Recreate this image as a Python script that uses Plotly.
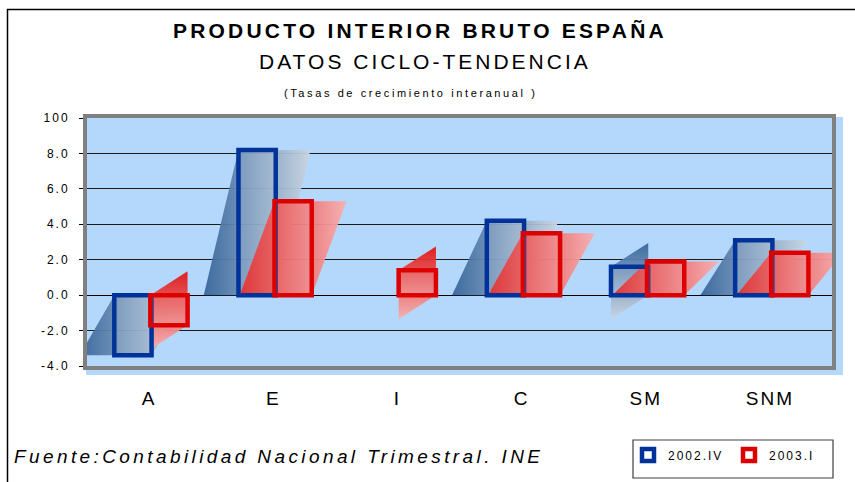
import plotly.graph_objects as go

# ---------------- data ----------------
categories = ["A", "E", "I", "C", "SM", "SNM"]
series_names = ["2002.IV", "2003.I"]
values_2002_IV = [-3.4, 8.2, None, 4.2, 1.6, 3.1]
values_2003_I = [-1.7, 5.3, 1.4, 3.5, 1.9, 2.4]
y_tickvals = [-4, -2, 0, 2, 4, 6, 8, 10]
y_ticktext = ["-4.0", "-2.0", "0.0", "2.0", "4.0", "6.0", "8.0", "100"]

# ---------------- styling ----------------
W, H = 855, 482
PL, PR, PT, PB = 87, 832, 118, 366          # plot area in pixels
BG = "#B4D8FC"
FONT = "Liberation Sans, Arial, sans-serif"

line_colors = ["#003399", "#DD0000"]
grad_colors = [["#36649A", "#CAD5E1"], ["#E01414", "#F8AFAF"]]
bar_offsets = [-0.28, 0.01]
bar_width = 0.30
shear_x = 0.28    # horizontal skew of the gradient "shadow" (category units)
shear_y = 1.35    # vertical skew for short bars (value units)


def X(px):
    return (px - PL) / (PR - PL)


def Y(py):
    return (PB - py) / (PB - PT)


def spaced(text, ls):
    return f'<span style="letter-spacing:{ls}px">{text}</span>'


fig = go.Figure()

# gradient "shadow" parallelograms, computed from the data
for s, vals in enumerate([values_2002_IV, values_2003_I]):
    for j, v in enumerate(vals):
        if v is None:
            continue
        L = j + bar_offsets[s]
        R = L + bar_width
        lo, hi = min(0, v), max(0, v)
        if abs(v) >= 1.8:
            xs = [L - shear_x, R, R + shear_x, L, L - shear_x]
            ys = [lo, lo, hi, hi, lo]
            grad = dict(type="horizontal",
                        colorscale=[[0, grad_colors[s][0]], [1, grad_colors[s][1]]])
        else:
            xs = [L, R, R, L, L]
            ys = [lo - shear_y, lo, hi + shear_y, hi, lo - shear_y]
            grad = dict(type="vertical",
                        colorscale=[[0, grad_colors[s][1]], [1, grad_colors[s][0]]])
        fig.add_trace(go.Scatter(
            x=xs, y=ys, mode="lines", fill="toself",
            line=dict(width=0, color="rgba(0,0,0,0)"),
            fillgradient=grad, opacity=0.94,
            showlegend=False, hoverinfo="skip",
            xaxis="x", yaxis="y",
        ))

# outlined bars on an overlay subplot (drawn above the shadows)
for s, vals in enumerate([values_2002_IV, values_2003_I]):
    fig.add_trace(go.Bar(
        x=list(range(len(categories))), y=vals, name=spaced(series_names[s], 2),
        width=bar_width, offset=bar_offsets[s],
        marker=dict(color="rgba(255,255,255,0.12)",
                    line=dict(color=line_colors[s], width=4.5)),
        xaxis="x2", yaxis="y2",
    ))

fig.update_layout(
    width=W, height=H,
    margin=dict(l=PL, r=W - PR, t=PT, b=H - PB, pad=0, autoexpand=False),
    paper_bgcolor="white", plot_bgcolor=BG,
    barmode="overlay",
    font=dict(family=FONT, color="black"),
    xaxis=dict(range=[-0.5, 5.5], tickvals=list(range(len(categories))),
               ticktext=[spaced(c, 2) for c in categories], tickfont=dict(size=19),
               ticks="", showgrid=False, zeroline=False,
               showline=True, linecolor="#808080", linewidth=4, mirror=True,
               ticklabelstandoff=12, automargin=False, fixedrange=True),
    yaxis=dict(range=[-4, 10], tickvals=y_tickvals,
               ticktext=[spaced(t, 2) for t in y_ticktext],
               tickfont=dict(size=12), ticks="outside", ticklen=4,
               tickcolor="black", tickwidth=1,
               showgrid=True, gridcolor="#1a1a1a", gridwidth=1,
               zeroline=True, zerolinecolor="black", zerolinewidth=1,
               showline=True, linecolor="#808080", linewidth=4, mirror=True,
               ticklabelstandoff=7, automargin=False, fixedrange=True),
    xaxis2=dict(range=[-0.5, 5.5], overlaying="x", visible=False),
    yaxis2=dict(range=[-4, 10], overlaying="y", visible=False),
    legend=dict(orientation="h", x=X(628), y=Y(455), xanchor="left", yanchor="middle",
                borderwidth=0, bgcolor="rgba(0,0,0,0)",
                font=dict(size=12, family=FONT), itemwidth=30,
                entrywidth=56, entrywidthmode="pixels"),
    shapes=[
        # light-blue 3D offset behind the plot area
        dict(type="rect", xref="paper", yref="paper", layer="below",
             x0=X(86), x1=X(843), y0=Y(375), y1=Y(117),
             fillcolor=BG, line=dict(width=0)),
        # outer frame
        dict(type="rect", xref="paper", yref="paper", layer="below",
             x0=X(7.5), x1=X(1000), y0=Y(700), y1=Y(9.5),
             fillcolor="rgba(0,0,0,0)", line=dict(color="black", width=1.5)),
        # legend frame
        dict(type="rect", xref="paper", yref="paper", layer="below",
             x0=X(633), x1=X(833), y0=Y(478), y1=Y(440),
             fillcolor="white", line=dict(color="#404040", width=1.2)),
    ],
    annotations=[
        dict(text="<b>" + spaced("PRODUCTO INTERIOR BRUTO ESPAÑA", 3.2) + "</b>",
             xref="paper", yref="paper",
             x=X(420), y=Y(30), xanchor="center", yanchor="middle", showarrow=False,
             font=dict(size=21, family=FONT)),
        dict(text=spaced("DATOS CICLO-TENDENCIA", 3), xref="paper", yref="paper",
             x=X(425), y=Y(62), xanchor="center", yanchor="middle", showarrow=False,
             font=dict(size=21, family=FONT)),
        dict(text=spaced("(Tasas de crecimiento interanual )", 2.6),
             xref="paper", yref="paper",
             x=X(410), y=Y(93), xanchor="center", yanchor="middle", showarrow=False,
             font=dict(size=11, family=FONT)),
        dict(text="<i>" + spaced("Fuente:Contabilidad Nacional Trimestral. INE", 3.4)
             + "</i>", xref="paper",
             yref="paper", x=X(12), y=Y(456), xanchor="left", yanchor="middle",
             showarrow=False, font=dict(size=19, family=FONT)),
    ],
)

fig.write_html("out.html",
               config={"displayModeBar": False, "staticPlot": True},
               post_script="document.body.style.margin='0';"
                           "document.body.style.overflow='hidden';")
